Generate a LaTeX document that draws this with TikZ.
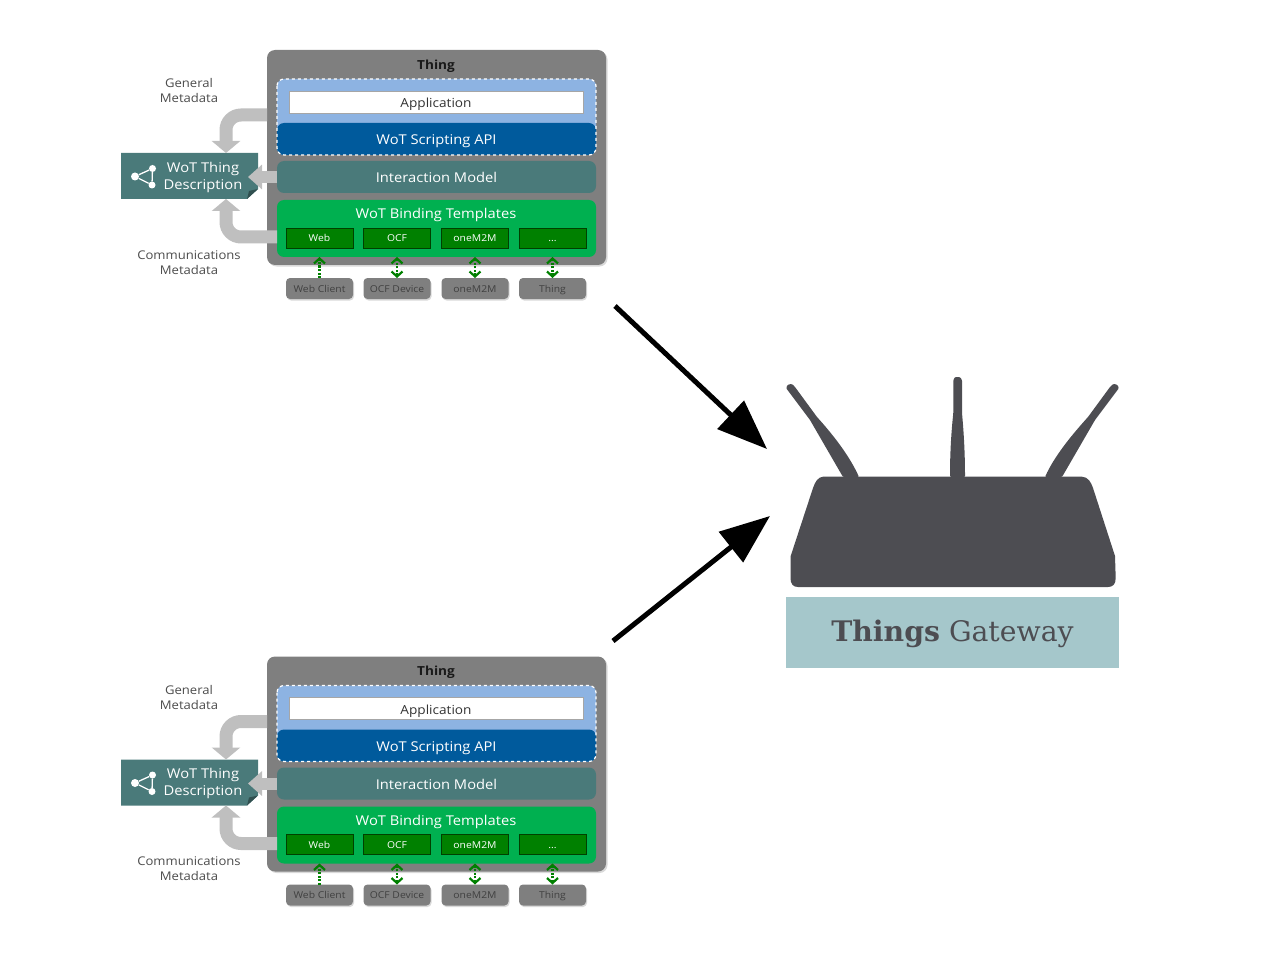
\documentclass[tikz,border=0pt]{standalone}
\usepackage{fontspec}
\setmainfont[FakeStretch=1.09]{Open Sans}
\newfontfamily\gatewayfont{DejaVu Serif}
\usetikzlibrary{arrows.meta,shadows}

\definecolor{thinggray}{HTML}{7F7F7F}
\definecolor{apilight}{HTML}{8DB3E2}
\definecolor{apidark}{HTML}{005A9C}
\definecolor{modelteal}{HTML}{4A7A7A}
\definecolor{bindgreen}{HTML}{00B050}
\definecolor{protogreen}{HTML}{008000}
\definecolor{metagray}{HTML}{BFBFBF}
\definecolor{routergray}{HTML}{4D4D52}
\definecolor{gatewayblue}{HTML}{A5C7CB}

\tikzset{
	layer/.style={inner sep=0, outer sep=0, minimum width=319, rounded corners=7, text=white, text height=12, text depth=1, font=\fontsize{13.5}{15}\selectfont},
	proto/.style={inner sep=0, outer sep=0, minimum width=67, minimum height=20, fill=protogreen, draw=black!50!protogreen, line width=0.5, text=white, text height=8, text depth=1, font=\fontsize{9.5}{11}\selectfont},
	client/.style={inner sep=0, outer sep=0, minimum width=67, minimum height=21, fill=thinggray, rounded corners=4, text=black!75, text height=8, text depth=1, font=\fontsize{9.5}{11}\selectfont, drop shadow={shadow xshift=1pt, shadow yshift=-1.5pt, opacity=.3}},
	caption/.style={align=center, text=black!70, font=\fontsize{12}{15}\selectfont},
	metaarrow/.style={draw=metagray, line width=13, rounded corners=15, -{Triangle[length=12,width=28]}},
	linkarrow/.style={draw=protogreen, line width=2.2, dash pattern=on 2 off 1.5},
	linktip/.tip={Straight Barb[length=5,width=11,line width=2.2]},
	bigarrow/.style={draw=black, line width=5, -{Triangle[length=50,width=38]}},
	icondot/.style={circle, fill=white, inner sep=0, minimum size=#1},
	wotstack/.pic={
		% Thing
		\node[inner sep=0, minimum width=339, minimum height=215, fill=thinggray, rounded corners=8, drop shadow={shadow xshift=1.5pt, shadow yshift=-1.5pt, opacity=.3}] (thing) at (436.5,157.5) {};
		\node[font=\bfseries\fontsize{12.5}{15}\selectfont, text=black!90] (title) at (436,66) {Thing};

		% Application und Scripting
		\node[layer, minimum height=76, fill=apilight] (api) at (436.5,117) {};
		\node[inner sep=0, minimum width=294, minimum height=22, fill=white, draw=black!35, line width=0.7, text=black!80, text height=12, text depth=1, font=\fontsize{12.5}{15}\selectfont] (app) at (436,102) {Application};
		\node[layer, minimum height=32, fill=apidark] (script) at (436.5,139) {WoT Scripting API};
		\draw[white, dashed, line width=1.2, rounded corners=7] (api.north west) rectangle (api.south east);

		\node[layer, minimum height=32, fill=modelteal] (model) at (436.5,177) {Interaction Model};

		% Binding
		\node[layer, minimum height=57, fill=bindgreen] (bind) at (436.5,228.5) {};
		\node[inner sep=0, text=white, text height=12, text depth=1, font=\fontsize{13.5}{15}\selectfont] (bindtitle) at (436,213.5) {WoT Binding Templates};
		\node[proto] (web) at (319.5,238) {Web};
		\node[proto] (ocf) at (397,238) {OCF};
		\node[proto] (m2m) at (475,238) {oneM2M};
		\node[proto] (etc) at (552.5,238) {...};

		\node[client] (c1) at (319.5,288.5) {Web Client};
		\node[client] (c2) at (397,288.5) {OCF Device};
		\node[client] (c3) at (475,288.5) {oneM2M};
		\node[client] (c4) at (552.5,288.5) {Thing};

		\draw[linkarrow, -{linktip}] (c1.north) -- (c1.north |- bind.south);
		\foreach \c in {c2,c3,c4}
			\draw[linkarrow, {linktip}-{linktip}] (\c.north) -- (\c.north |- bind.south);

		% Thing Description
		\node[inner sep=0, outer sep=0, minimum width=137, minimum height=46] (desc) at (189.5,176) {};
		\coordinate (foldA) at (258,189);
		\coordinate (foldB) at (247,199);
		\coordinate (foldC) at (249,191);
		\fill[modelteal] (desc.north west) -- (desc.north east) -- (foldA) -- (foldB) -- (desc.south west) -- cycle;
		\fill[black!35!modelteal] (foldA) -- (foldB) -- (foldC) -- cycle;
		\node[align=center, text=white, font=\fontsize{13.5}{17}\selectfont] (desctext) at (203,177) {WoT Thing\\Description};
		\node[icondot=8] (dotL) at (135,176.5) {};
		\node[icondot=7] (dotT) at (152.5,168.5) {};
		\node[icondot=7] (dotB) at (152,185) {};
		\draw[white, line width=1.3] (dotL) -- (dotT) -- (dotB) -- (dotL);

		% Metadaten
		\node[caption] (general) at (189,90.5) {General\\Metadata};
		\node[caption] (comm) at (189,262.5) {Communications\\Metadata};

		\coordinate (genstart) at (267,115);
		\coordinate (genbend) at (226,115);
		\coordinate (genend) at (226,153);
		\coordinate (comstart) at (277,237);
		\coordinate (combend) at (226,237);
		\coordinate (comend) at (226,199);
		\coordinate (modelend) at (248,177);
		\draw[metaarrow] (genstart) -- (genbend) -- (genend);
		\draw[metaarrow] (comstart) -- (combend) -- (comend);
		\draw[draw=metagray, line width=12, -{Triangle[length=14,width=24]}] (model.west) -- (modelend);
	}
}

\begin{document}
\begin{tikzpicture}[x=1pt, y=-1pt]
	\useasboundingbox (0,0) rectangle (1280,960);

	\pic (upper) at (0,0) {wotstack};
	\pic (lower) at (0,606.5) {wotstack};

	% Router
	\fill[routergray, rounded corners=1] (786,388) -- (788,384.5) -- (792,384) -- (795,387) -- (817,417)
		.. controls (835,437) and (850,457) .. (859,477) -- (843,477) -- (810,420) -- cycle;
	\fill[routergray, rounded corners=1] (953.3,380) -- (955,377) -- (960,377) -- (962,380) -- (962,413)
		.. controls (964,435) and (965,455) .. (965,477) -- (950,477)
		.. controls (950,455) and (951,435) .. (953.3,413) -- cycle;
	\fill[routergray, rounded corners=1] (1119,388) -- (1117,384.5) -- (1113,384) -- (1110,387) -- (1088,417)
		.. controls (1070,437) and (1054,457) .. (1045,477) -- (1062,477) -- (1095,420) -- cycle;
	\fill[routergray] (823,476.7) -- (1082,476.7) .. controls (1088,477) and (1091,482) .. (1093,488)
		-- (1115,556) -- (1115.7,578) .. controls (1115.7,584) and (1113,587) .. (1108,587)
		-- (798,587) .. controls (793,587) and (790.5,584) .. (790.5,578) -- (790.7,556)
		-- (813,488) .. controls (815,482) and (818,477) .. (823,476.7) -- cycle;
	\node[inner sep=0, minimum width=333, minimum height=71, fill=gatewayblue, text=routergray, text height=24, text depth=6, font=\gatewayfont\fontsize{28.3}{30}\selectfont] (gateway) at (952.5,632.5) {\textbf{Things} Gateway};

	\coordinate (upperfrom) at (615,306);
	\coordinate (uppertip) at (767,449);
	\coordinate (lowerfrom) at (613,641);
	\coordinate (lowertip) at (770,516);
	\draw[bigarrow] (upperfrom) -- (uppertip);
	\draw[bigarrow] (lowerfrom) -- (lowertip);
\end{tikzpicture}
\end{document}
